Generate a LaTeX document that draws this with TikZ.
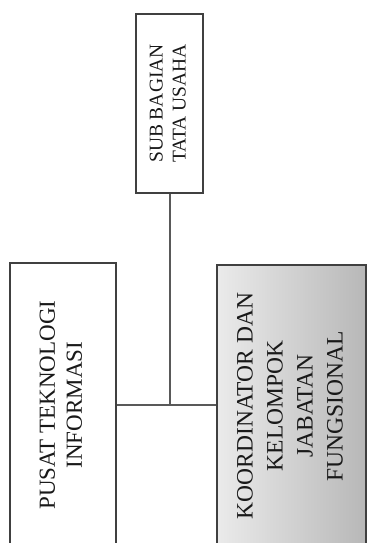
\documentclass[tikz,border=0pt]{standalone}
\usepackage{fontspec}
\setmainfont{Liberation Serif}
\usepackage{graphicx}
\usetikzlibrary{positioning}

\tikzset{
  unitbox/.style={draw=black!75, line width=2pt, inner sep=0pt, text=black!90},
  link/.style={draw=black!65, line width=2pt}
}

\begin{document}
\begin{tikzpicture}[x=1pt,y=-1pt]
\useasboundingbox (0,0) rectangle (369,543);
\clip (0,0) rectangle (369,543);
%
\node[unitbox, minimum width=67pt, minimum height=179pt] (sub) at (169.5,103.5)
  {\rotatebox{90}{\fontsize{19.5}{23}\selectfont\begin{tabular}{@{}c@{}}SUB BAGIAN\\TATA USAHA\end{tabular}}};
%
\node[unitbox, fill=white, minimum width=106pt, minimum height=284pt] (pusat) at (63,405)
  {\rotatebox{90}{\fontsize{23}{27}\selectfont\begin{tabular}{@{}c@{}}PUSAT TEKNOLOGI\\INFORMASI\end{tabular}}};
%
\node[unitbox, left color=black!8, right color=black!28, minimum width=149pt, minimum height=282pt] (koord) at (291.5,406)
  {\rotatebox{90}{\fontsize{23.5}{30}\selectfont\begin{tabular}{@{}c@{}}KOORDINATOR DAN\\KELOMPOK\\JABATAN\\FUNGSIONAL\end{tabular}}};
%
\coordinate (hub) at (sub.south |- 0,405);
\draw[link] (sub.south) -- (hub);
\draw[link] (pusat.east |- hub) -- (koord.west |- hub);
%
\end{tikzpicture}
\end{document}
